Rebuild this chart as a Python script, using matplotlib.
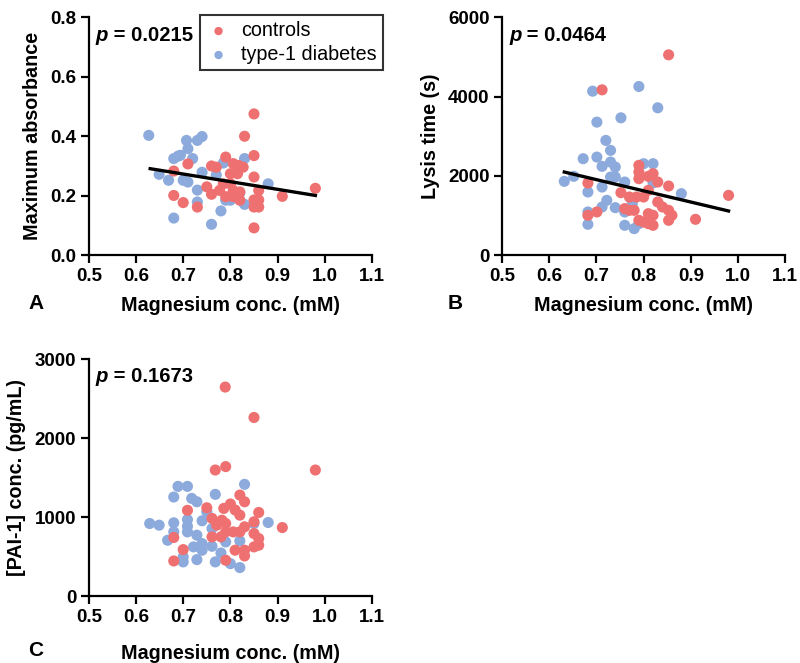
import matplotlib
matplotlib.use("Agg")
import matplotlib.pyplot as plt
import numpy as np

plt.rcParams['font.family'] = ['Liberation Sans', 'DejaVu Sans']

RED = "#EF7070"
BLUE = "#8DAADC"

# ---------------- Panel A: Maximum absorbance ----------------
a_ctrl_x = [0.85, 0.83, 0.85, 0.79, 0.71, 0.68, 0.68, 0.70, 0.73, 0.76, 0.77, 0.75, 0.76,
            0.806, 0.817, 0.827, 0.80, 0.815, 0.85, 0.785, 0.80, 0.777, 0.806, 0.82, 0.86,
            0.85, 0.86, 0.85, 0.86, 0.85, 0.91, 0.98, 0.79, 0.806, 0.82]
a_ctrl_y = [0.475, 0.40, 0.335, 0.33, 0.307, 0.283, 0.201, 0.177, 0.162, 0.30, 0.296, 0.23, 0.205,
            0.308, 0.302, 0.296, 0.274, 0.274, 0.263, 0.24, 0.24, 0.218, 0.218, 0.213, 0.218,
            0.186, 0.186, 0.162, 0.162, 0.092, 0.198, 0.225, 0.197, 0.197, 0.185]
a_t1d_x = [0.627, 0.649, 0.669, 0.68, 0.689, 0.694, 0.68, 0.707, 0.71, 0.70, 0.71, 0.72, 0.73,
           0.74, 0.73, 0.73, 0.74, 0.76, 0.78, 0.79, 0.80, 0.83, 0.83, 0.88, 0.77, 0.785, 0.82]
a_t1d_y = [0.403, 0.272, 0.252, 0.325, 0.333, 0.336, 0.125, 0.386, 0.358, 0.252, 0.246, 0.325, 0.386,
           0.399, 0.219, 0.179, 0.279, 0.104, 0.149, 0.185, 0.185, 0.325, 0.171, 0.24, 0.27, 0.31, 0.21]
a_fit_x = [0.63, 0.98]
a_fit_y = [0.291, 0.201]
a_p = "0.0215"

# ---------------- Panel B: Lysis time ----------------
b_ctrl_x = [0.853, 0.712, 0.682, 0.682, 0.701, 0.752, 0.76, 0.77, 0.78, 0.77, 0.79, 0.79, 0.79,
            0.80, 0.81, 0.81, 0.82, 0.83, 0.853, 0.80, 0.81, 0.82, 0.81, 0.82, 0.83, 0.84, 0.853,
            0.853, 0.86, 0.79, 0.91, 0.98, 0.785]
b_ctrl_y = [5052, 4170, 1821, 1007, 1091, 1578, 1175, 1133, 1133, 1468, 2266, 2098, 1930,
            1468, 1636, 1988, 2056, 1846, 1745, 839, 797, 755, 1049, 1007, 1343, 1217, 1133,
            881, 1007, 881, 906, 1510, 1468]
b_t1d_x = [0.632, 0.652, 0.672, 0.682, 0.682, 0.682, 0.692, 0.701, 0.701, 0.712, 0.712, 0.72, 0.722,
           0.712, 0.73, 0.73, 0.74, 0.73, 0.74, 0.74, 0.752, 0.76, 0.76, 0.76, 0.78, 0.79, 0.80,
           0.82, 0.83, 0.82, 0.88, 0.79, 0.776]
b_t1d_y = [1863, 1990, 2434, 1594, 1091, 780, 4136, 3356, 2475, 2241, 1720, 2895, 1385,
           1217, 2644, 2350, 2224, 1972, 1972, 1200, 3465, 1846, 1091, 755, 671, 4254, 2308,
           2308, 3717, 1821, 1553, 797, 1300]
b_fit_x = [0.632, 0.98]
b_fit_y = [2098, 1116]
b_p = "0.0464"

# ---------------- Panel C: PAI-1 ----------------
c_ctrl_x = [0.789, 0.85, 0.768, 0.79, 0.98, 0.709, 0.75, 0.761, 0.771, 0.782, 0.79, 0.786, 0.80,
            0.81, 0.82, 0.83, 0.82, 0.83, 0.82, 0.806, 0.79, 0.78, 0.761, 0.86, 0.85, 0.85,
            0.86, 0.85, 0.86, 0.81, 0.83, 0.83, 0.91, 0.68, 0.68, 0.70, 0.79]
c_ctrl_y = [2645, 2260, 1595, 1638, 1595, 1085, 1117, 983, 897, 960, 918, 1109, 1165,
            1089, 1278, 1193, 1024, 876, 812, 812, 812, 749, 749, 1058, 940, 791,
            728, 622, 643, 580, 580, 508, 867, 741, 444, 588, 453]
c_t1d_x = [0.629, 0.649, 0.667, 0.68, 0.68, 0.68, 0.689, 0.709, 0.709, 0.709, 0.709, 0.718, 0.729,
           0.74, 0.729, 0.722, 0.74, 0.74, 0.729, 0.70, 0.70, 0.761, 0.768, 0.768, 0.78, 0.79,
           0.80, 0.82, 0.82, 0.83, 0.88, 0.85, 0.761, 0.75]
c_t1d_y = [918, 897, 706, 927, 812, 1253, 1388, 1388, 968, 812, 883, 1236, 1193,
           952, 770, 622, 580, 664, 461, 495, 432, 630, 1287, 432, 545, 685,
           410, 360, 698, 1414, 931, 918, 855, 1066]
c_p = "0.1673"

x_ticks = [0.5, 0.6, 0.7, 0.8, 0.9, 1.0, 1.1]
x_label = "Magnesium conc. (mM)"

fig = plt.figure(figsize=(8.0, 6.63), dpi=100)
axA = fig.add_axes([0.111, 0.615, 0.354, 0.359])
axB = fig.add_axes([0.6275, 0.615, 0.354, 0.359])
axC = fig.add_axes([0.111, 0.101, 0.354, 0.3575])

MS = 64


def style(ax, yticks, yfmt, ylabel, xpad):
    ax.set_xlim(0.5, 1.1)
    ax.set_ylim(yticks[0], yticks[-1])
    ax.set_xticks(x_ticks)
    ax.set_xticklabels([f"{v:.1f}" for v in x_ticks])
    ax.set_yticks(yticks)
    ax.set_yticklabels([yfmt(v) for v in yticks])
    for s in ['top', 'right']:
        ax.spines[s].set_visible(False)
    for s in ['left', 'bottom']:
        ax.spines[s].set_linewidth(1.6)
        ax.spines[s].set_color('black')
    ax.tick_params(width=1.6, length=6, labelsize=13.5, pad=3)
    for lab in ax.get_xticklabels() + ax.get_yticklabels():
        lab.set_fontweight('bold')
    ax.set_xlabel(x_label, fontsize=14.2, fontweight='bold', labelpad=xpad)
    ax.set_ylabel(ylabel, fontsize=14.2, fontweight='bold', labelpad=6)


def ptext(ax, pval):
    t = ax.text(0.025, 0.965, "p", transform=ax.transAxes, fontsize=14.6,
                fontweight='bold', fontstyle='italic', va='top', ha='left')
    ax.annotate(" = " + pval, xy=(1, 0), xycoords=t, fontsize=14.6,
                fontweight='bold', va='bottom', ha='left')


# Panel A
axA.scatter(a_ctrl_x, a_ctrl_y, s=MS, color=RED, edgecolors='none', label='controls', zorder=3, clip_on=False)
axA.scatter(a_t1d_x, a_t1d_y, s=MS, color=BLUE, edgecolors='none', label='type-1 diabetes', zorder=2, clip_on=False)
axA.plot(a_fit_x, a_fit_y, color='black', lw=2.4, zorder=4)
style(axA, [0.0, 0.2, 0.4, 0.6, 0.8], lambda v: f"{v:.1f}", "Maximum absorbance", 8)
ptext(axA, a_p)
leg = axA.legend(loc='upper left', bbox_to_anchor=(0.392, 1.008), fontsize=14.2, frameon=True,
                 fancybox=False, edgecolor='black', handletextpad=0.5, borderpad=0.3,
                 labelspacing=0.25, handlelength=1.3, borderaxespad=0, markerscale=0.75)
leg.get_frame().set_linewidth(1.5)

# Panel B
axB.scatter(b_ctrl_x, b_ctrl_y, s=MS, color=RED, edgecolors='none', zorder=3, clip_on=False)
axB.scatter(b_t1d_x, b_t1d_y, s=MS, color=BLUE, edgecolors='none', zorder=2, clip_on=False)
axB.plot(b_fit_x, b_fit_y, color='black', lw=2.4, zorder=4)
style(axB, [0, 2000, 4000, 6000], lambda v: f"{int(v)}", "Lysis time (s)", 8)
ptext(axB, b_p)

# Panel C
axC.scatter(c_t1d_x, c_t1d_y, s=MS, color=BLUE, edgecolors='none', zorder=2, clip_on=False)
axC.scatter(c_ctrl_x, c_ctrl_y, s=MS, color=RED, edgecolors='none', zorder=3, clip_on=False)
style(axC, [0, 1000, 2000, 3000], lambda v: f"{int(v)}", "[PAI-1] conc. (pg/mL)", 13)
ptext(axC, c_p)

fig.text(28 / 800, 1 - 304 / 663, "A", fontsize=15, fontweight='bold', ha='left', va='center')
fig.text(448 / 800, 1 - 304 / 663, "B", fontsize=15, fontweight='bold', ha='left', va='center')
fig.text(28 / 800, 1 - 651 / 663, "C", fontsize=15, fontweight='bold', ha='left', va='center')

fig.savefig("out.png", dpi=100)
